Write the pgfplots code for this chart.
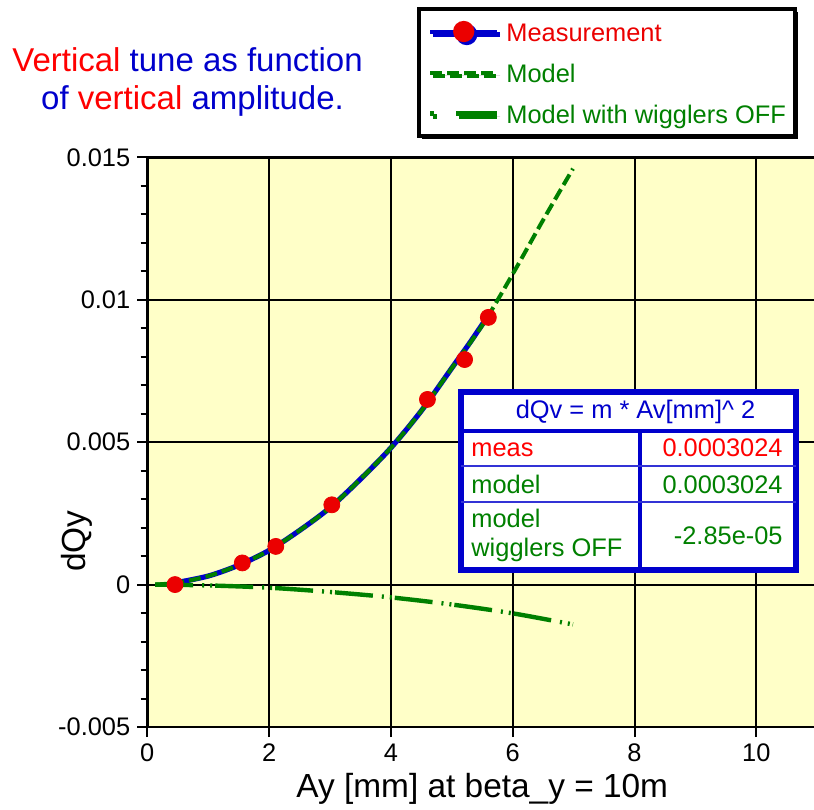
\documentclass[border=0pt]{standalone}
\usepackage{fontspec}
\setmainfont{Liberation Sans}
\usepackage{pgfplots}
\pgfplotsset{compat=1.18}
\usetikzlibrary{shadows}

\definecolor{bgyellow}{RGB}{255,255,200}
\definecolor{tblue}{RGB}{0,0,204}
\definecolor{mgreen}{RGB}{0,128,0}
\definecolor{mred}{RGB}{235,0,0}

\pgfplotsset{
    wiggler legend/.style={
        legend image code/.code={
            \draw[##1, solid] (0pt,0pt) -- (2pt,0pt);
            \draw[##1, solid] (13pt,0pt) -- (33.5pt,0pt);}
    },
    meas legend/.style={
        legend image code/.code={
            \draw[##1, line width=2pt] (0pt,0pt) -- (33.5pt,0pt);
            \fill[mred] (16.75pt,0pt) circle[radius=4pt];}
    }
}

\begin{document}
\begin{tikzpicture}
\begin{axis}[
    at={(0,0)}, anchor=south west,
    scale only axis,
    width=334.95pt, height=284.85pt,
    xmin=0, xmax=11,
    ymin=-0.005, ymax=0.015,
    axis background/.style={fill=bgyellow},
    axis line style={line width=1.3pt},
    xtick={0,2,4,6,8,10},
    xticklabels={0,2,4,6,8,10},
    ytick={-0.005,0,0.005,0.01,0.015},
    yticklabels={-0.005,0,0.005,0.01,0.015},
    scaled y ticks=false,
    minor y tick num=4,
    xtick pos=bottom, ytick pos=left,
    tick align=outside,
    major tick length=5pt, minor tick length=3.3pt,
    tick style={black, line width=1pt},
    grid=major,
    major grid style={black, line width=1pt},
    ticklabel style={font=\fontsize{12.7}{15}\selectfont},
    xlabel={Ay [mm] at beta\_y = 10m},
    ylabel={dQy},
    label style={font=\fontsize{16.7}{20}\selectfont},
    xlabel style={at={(axis description cs:0.5,-0.1246)}, anchor=base},
    ylabel style={at={(axis description cs:-0.1049,0.3265)}, anchor=center},
    legend cell align=left,
    legend image code/.code={\draw[mark repeat=2,mark phase=2,#1] plot coordinates {(0pt,0pt) (16.75pt,0pt) (33.5pt,0pt)};},
    legend style={
        at={(axis description cs:0.4026,1.2638)}, anchor=north west,
        draw=black, line width=2pt, fill=white,
        drop shadow={shadow xshift=1.5pt, shadow yshift=-1.5pt, fill=black, opacity=1},
        inner xsep=4.5pt, inner ysep=3.75pt,
        row sep=5.5pt, column sep=3.5pt,
        font=\fontsize{12.7}{15}\selectfont,
        nodes={inner sep=0pt, text height=12.5pt, text depth=2.5pt},
    },
]
    % measurement: fitted line through the points
    \addplot[tblue, line width=2.6pt, smooth, meas legend] coordinates {
        (0.455,0.00006) (1,0.0003) (1.5,0.00068) (2,0.0012) (2.5,0.0019)
        (3,0.0027) (3.5,0.0037) (4,0.0048) (4.5,0.0061) (5,0.0076)
        (5.3,0.0085) (5.60,0.00945)
    };
    \addlegendentry{\textcolor{mred}{Measurement}}
    % measured points
    \addplot[only marks, mark=*, mark size=4pt, mred,
        mark options={fill=mred, draw=mred, solid}, forget plot] coordinates {
        (0.455,0) (1.56,0.00076) (2.11,0.00134) (3.03,0.0028)
        (4.60,0.0065) (5.21,0.0079) (5.60,0.00938)
    };

    % model
    \addplot[mgreen, line width=2pt, smooth, dash pattern=on 6pt off 2.5pt] coordinates {
        (0.13,0) (0.5,0.00007) (1,0.0003) (1.5,0.00068) (2,0.0012)
        (2.5,0.0019) (3,0.0027) (3.5,0.0037) (4,0.0048) (4.5,0.0061)
        (5,0.0076) (5.5,0.0091) (6,0.0109) (6.5,0.0128) (6.99,0.0146)
    };
    \addlegendentry{\textcolor{mgreen}{Model}}

    % model, wigglers off
    \addplot[mgreen, line width=2.2pt, smooth,
        dash pattern=on 19pt off 4.5pt on 1pt off 3pt on 1pt off 1.5pt,
        wiggler legend] coordinates {
        (0.13,0) (1,-0.00003) (2,-0.00011) (3,-0.00026) (4,-0.00045)
        (5,-0.0007) (6,-0.00101) (6.99,-0.0014)
    };
    \addlegendentry{\textcolor{mgreen}{Model with wigglers OFF}\hspace{4pt}}
\end{axis}

\begin{scope}[shift={(-73.65pt,363.5pt)}, x=0.5pt, y=-0.5pt]
    % title
    \node[anchor=base, font=\fontsize{16.5}{19}\selectfont] at (187.5,72)
        {\textcolor{red}{Vertical} \textcolor{tblue}{tune as function}};
    \node[anchor=base, font=\fontsize{16.5}{19}\selectfont] at (192.5,110)
        {\textcolor{tblue}{of} \textcolor{red}{vertical} \textcolor{tblue}{amplitude.}};

    % fit table
    \draw[tblue, line width=3pt, fill=white] (461,392) rectangle (796,570);
    \draw[tblue, line width=2pt] (461,431.5) -- (796,431.5);
    \draw[tblue, line width=2pt] (640,431.5) -- (640,570);
    \draw[tblue!80, line width=0.7pt] (461,466) -- (796,466);
    \draw[tblue!80, line width=0.7pt] (461,502) -- (796,502);
    \begin{scope}[font=\fontsize{12.7}{15}\selectfont]
        \node[anchor=base, tblue, inner sep=0pt] at (635.5,419) {dQv = m * Av[mm]\textasciicircum\ 2};
        \node[anchor=base west, red, inner sep=0pt] at (471,457) {meas};
        \node[anchor=base east, red, inner sep=0pt] at (783,457) {0.0003024};
        \node[anchor=base west, mgreen, inner sep=0pt] at (471,494) {model};
        \node[anchor=base east, mgreen, inner sep=0pt] at (783,494) {0.0003024};
        \node[anchor=base west, mgreen, inner sep=0pt] at (471,528) {model};
        \node[anchor=base west, mgreen, inner sep=0pt] at (471,557) {wigglers OFF};
        \node[anchor=base east, mgreen, inner sep=0pt] at (783,545) {-2.85e-05};
    \end{scope}

    \pgfresetboundingbox
    \path[use as bounding box] (0,0) rectangle (814,809);
\end{scope}
\end{tikzpicture}
\end{document}
